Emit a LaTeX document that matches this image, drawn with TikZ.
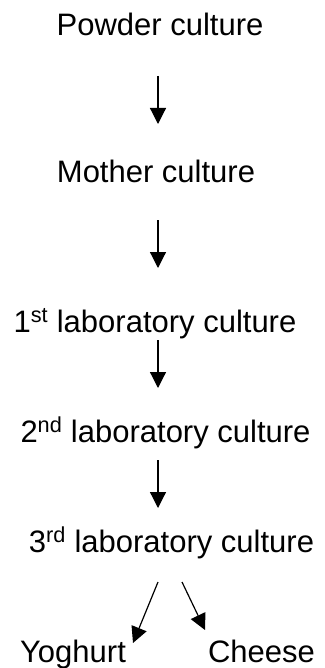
\documentclass[tikz,border=0pt]{standalone}
\usepackage{fontspec}
\setmainfont{Liberation Sans}
\usetikzlibrary{arrows.meta}
\tikzset{
  lbl/.style={anchor=base,inner sep=0pt,font=\fontsize{31}{36}\selectfont},
  flow/.style={-{Triangle[length=16pt,width=16pt]},line width=1.2pt}
}
\begin{document}
\begin{tikzpicture}[x=1pt,y=-1pt]
\useasboundingbox (0,0) rectangle (324,668);
\coordinate (ax) at (158,0);

\node[lbl] (powder) at (160,36) {Powder culture};
\node[lbl] (mother) at (156,183) {Mother culture};
\node[lbl] (first) at (155,332) {1\textsuperscript{st} laboratory culture};
\node[lbl] (second) at (165.5,442) {2\textsuperscript{nd} laboratory culture};
\node[lbl] (third) at (171.5,552) {3\textsuperscript{rd} laboratory culture};
\node[lbl] (yog) at (73,662) {Yoghurt};
\node[lbl] (cheese) at (261.5,662) {Cheese};

\draw[flow,shorten <=40pt,shorten >=59pt] (powder.base -| ax) -- (mother.base -| ax);
\draw[flow,shorten <=37pt,shorten >=64pt] (mother.base -| ax) -- (first.base -| ax);
\draw[flow,shorten <=8pt,shorten >=54pt] (first.base -| ax) -- (second.base -| ax);
\draw[flow,shorten <=18pt,shorten >=44pt] (second.base -| ax) -- (third.base -| ax);

\draw[flow] ([xshift=-13.5pt,yshift=-30pt]third.base) -- ([xshift=60pt,yshift=19pt]yog.base);
\draw[flow] ([xshift=10.5pt,yshift=-30pt]third.base) -- ([xshift=-56.5pt,yshift=32pt]cheese.base);
\end{tikzpicture}
\end{document}
